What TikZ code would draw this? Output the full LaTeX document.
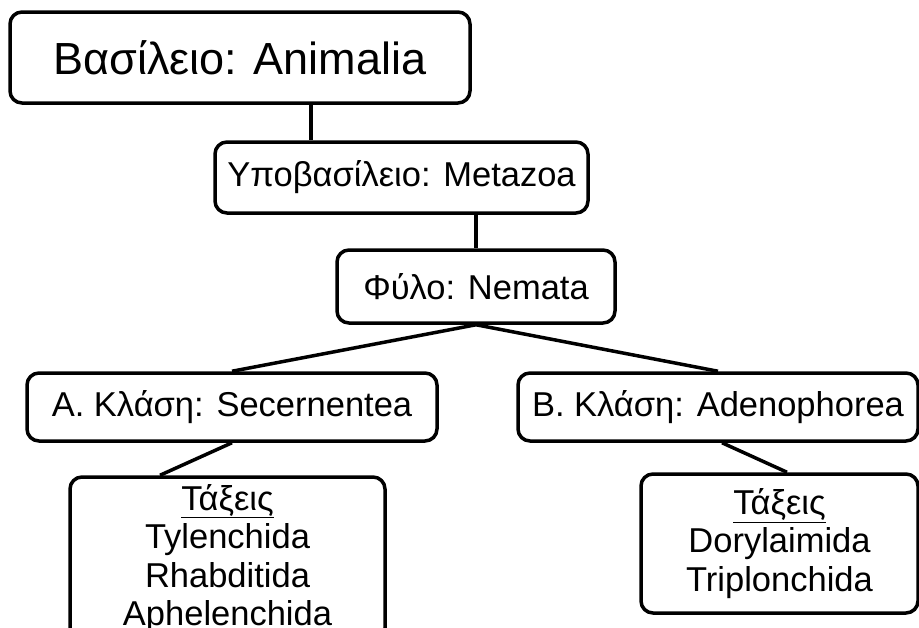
\documentclass[tikz,border=0pt]{standalone}
\usepackage{fontspec}
\setmainfont{Liberation Sans}
\begin{document}
\begin{tikzpicture}[x=1pt,y=-1pt,
  box/.style={draw, line width=3.5pt, rounded corners=12pt, inner sep=0pt, align=center, font=\fontsize{34.5}{38.5}\selectfont},
  link/.style={line width=3.5pt}]
\clip (0,0) rectangle (919,627);
\useasboundingbox (0,0) rectangle (919,627);
\node[box, minimum width=460pt, minimum height=91pt, font=\fontsize{45}{54}\selectfont] (A) at (240,57.5) {Βασίλειο: Animalia};
\node[box, minimum width=373pt, minimum height=71pt] (M) at (401.5,177.5) {Υποβασίλειο: Metazoa};
\node[box, minimum width=278pt, minimum height=73pt] (N) at (476,286.5) {Φύλο: Nemata};
\node[box, minimum width=410pt, minimum height=68pt] (S) at (232,407) {Α. Κλάση: Secernentea};
\node[box, minimum width=400pt, minimum height=68pt] (B) at (718,407) {Β. Κλάση: Adenophorea};
\node[box, minimum width=315pt, minimum height=163pt] (T1) at (227.5,558.5) {\underline{Τάξεις}\\Tylenchida\\Rhabditida\\Aphelenchida};
\node[box, minimum width=277pt, minimum height=139pt] (T2) at (779.5,543.5) {\underline{Τάξεις}\\Dorylaimida\\Triplonchida};
\draw[link] ([xshift=71pt]A.south) -- ([xshift=71pt]A.south |- M.north);
\draw[link] (N.north |- M.south) -- (N.north);
\draw[link] (N.south) -- (S.north);
\draw[link] (N.south) -- (B.north);
\draw[link] (S.south) -- ([xshift=-67.5pt]T1.north);
\draw[link] ([xshift=4pt]B.south) -- ([xshift=7.5pt]T2.north);
\end{tikzpicture}
\end{document}
